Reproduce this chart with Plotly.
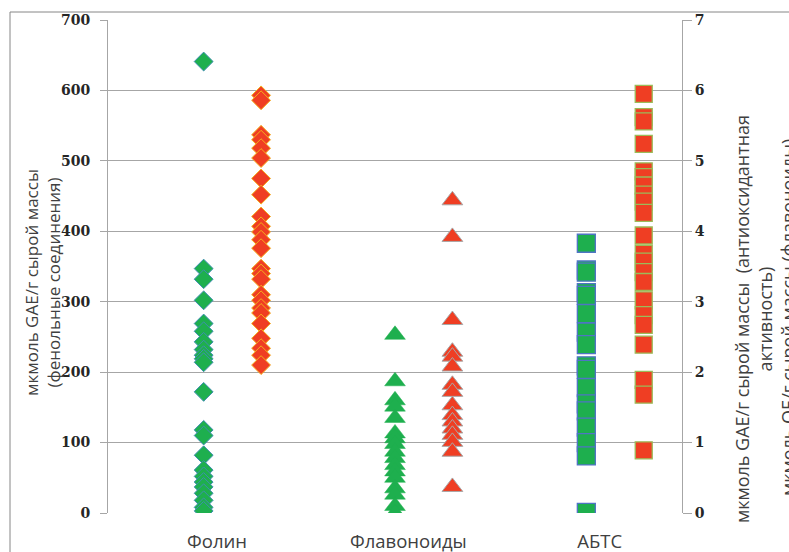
import plotly.graph_objects as go

categories = ["Фолин", "Флавоноиды", "АБТС"]

# Left axis (мкмоль GAE/г сырой массы)
folin_green = [641, 347, 332, 302, 269, 258, 243, 232, 224, 219, 214, 172, 118, 110, 82, 61, 52, 44, 37, 28, 18, 8, 3]
folin_red = [593, 586, 537, 530, 518, 504, 475, 452, 421, 407, 399, 388, 376, 347, 340, 332, 310, 302, 291, 284, 269, 248, 234, 224, 210]
flav_green = [253, 187, 160, 151, 135, 113, 106, 98, 87, 78, 68, 59, 50, 35, 26, 10, 0]
flav_red = [444, 392, 274, 229, 222, 208, 182, 172, 153, 139, 130, 120, 111, 101, 87, 37]
# Right axis
abts_green = [3.83, 3.45, 3.42, 3.13, 3.09, 2.83, 2.57, 2.39, 2.09, 2.04, 1.78, 1.55, 1.45, 1.22, 1.00, 0.81, 0.01]
abts_red = [5.95, 5.62, 5.56, 5.24, 4.85, 4.77, 4.65, 4.52, 4.42, 4.26, 3.94, 3.68, 3.57, 3.42, 3.28, 3.02, 2.81, 2.67, 2.39, 1.89, 1.68, 0.89]

left_ticks = [0, 100, 200, 300, 400, 500, 600, 700]
right_ticks = [0, 1, 2, 3, 4, 5, 6, 7]

GREEN = "#1EAF4E"
RED = "#EF3E23"
RED_OFFSET = 0.3
LABEL_OFFSET = 0.07

fig = go.Figure()

def add(xpos, vals, symbol, size, fill, line_color, line_width, yaxis="y"):
    fig.add_trace(go.Scatter(
        x=[xpos] * len(vals), y=vals, mode="markers", yaxis=yaxis,
        marker=dict(symbol=symbol, size=size, color=fill,
                    line=dict(color=line_color, width=line_width)),
        showlegend=False, hoverinfo="y"))

add(1, folin_green, "diamond", 14.5, GREEN, "#3F8FB0", 1)
add(1 + RED_OFFSET, folin_red, "diamond", 14.5, RED, "#F5AE1E", 1)
add(2, flav_green, "triangle-up", 18, GREEN, GREEN, 0.5)
add(2 + RED_OFFSET, flav_red, "triangle-up", 18, RED, "#A8A8A8", 1)
add(3, abts_green, "square", 18, GREEN, "#4F74C4", 1.3, "y2")
add(3 + RED_OFFSET, abts_red, "square", 17, RED, "#9BBB59", 1.3, "y2")

PL, PR, PT, PB = 108, 682, 20, 513
W, H = 789, 552

def px(xp):
    return (xp - PL) / (PR - PL)

def py(yp):
    return (PB - yp) / (PB - PT)

title_font = dict(family="Open Sans", size=17, color="#404040")
title_font_r = dict(family="Open Sans", size=18, color="#404040")
tick_font = dict(family="DejaVu Serif", size=14, color="#262626", weight="bold")

fig.update_layout(
    width=W, height=H,
    margin=dict(l=PL, r=W - PR, t=PT, b=H - PB, autoexpand=False),
    paper_bgcolor="white", plot_bgcolor="white",
    showlegend=False,
    xaxis=dict(range=[0.5, 3.5], showgrid=False, zeroline=False, showline=False,
               automargin=False,
               tickvals=[i + 1 + LABEL_OFFSET for i in range(len(categories))],
               ticktext=categories, ticks="outside", ticklen=12, tickcolor="rgba(0,0,0,0)",
               tickfont=dict(family="Open Sans", size=18.5, color="#404040")),
    yaxis=dict(range=[0, 700], tickvals=left_ticks, showgrid=True, gridcolor="#A6A6A6",
               gridwidth=1, zeroline=False, showline=True, linecolor="#A6A6A6",
               automargin=False,
               ticks="outside", ticklen=7, tickcolor="#A6A6A6", tickfont=tick_font,
               ticklabelstandoff=7),
    yaxis2=dict(range=[0, 7], tickvals=right_ticks, overlaying="y", side="right",
                showgrid=False, zeroline=False, showline=True, linecolor="#A6A6A6",
                automargin=False,
                ticks="outside", ticklen=9, tickcolor="#A6A6A6", tickfont=tick_font),
    shapes=[dict(type="rect", xref="paper", yref="paper",
                 x0=px(10), x1=px(820), y0=py(580), y1=py(12),
                 line=dict(color="#868686", width=1), fillcolor="rgba(0,0,0,0)", layer="below")],
    annotations=[
        dict(xref="paper", yref="paper", x=px(42), y=py(283), showarrow=False,
             textangle=-90, text="мкмоль GAE/г сырой массы<br>(фенольные соединения)",
             font=title_font, xanchor="center", yanchor="middle"),
        dict(xref="paper", yref="paper", x=px(753), y=py(319), showarrow=False,
             textangle=-90, text="мкмоль GAE/г сырой массы  (антиоксидантная<br>активность)",
             font=title_font_r, xanchor="center", yanchor="middle"),
        dict(xref="paper", yref="paper", x=px(788), y=py(318), showarrow=False,
             textangle=-90, text="мкмоль QE/г сырой массы (флавоноиды)",
             font=title_font_r, xanchor="center", yanchor="middle"),
    ],
)

fig.write_html("out.html", post_script="document.body.style.margin='0';",
               config={"displayModeBar": False})
